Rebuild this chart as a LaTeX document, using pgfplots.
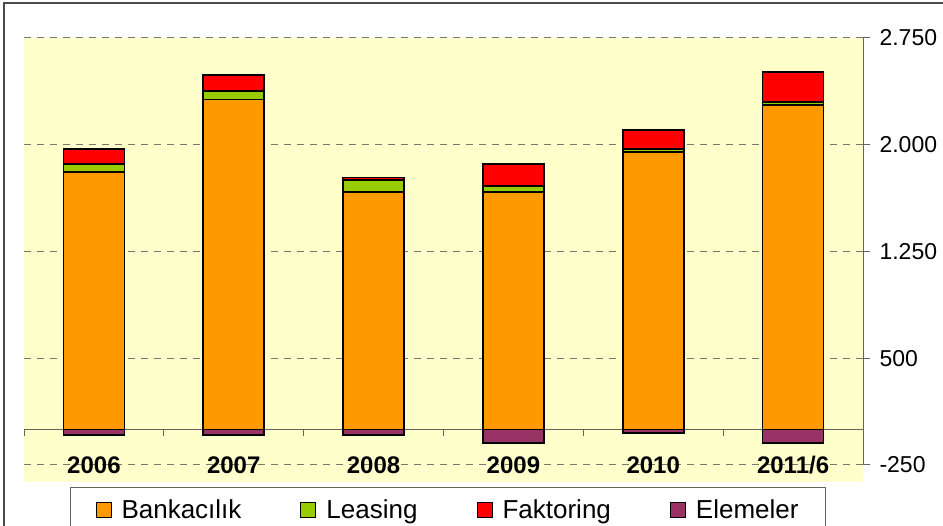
\documentclass[border=0pt]{standalone}
\usepackage{pgfplots}
\pgfplotsset{compat=1.18}
\usepackage{fontspec}
\setmainfont{Liberation Sans}
\definecolor{cBank}{RGB}{255,153,0}
\definecolor{cLeas}{RGB}{153,204,0}
\definecolor{cFakt}{RGB}{255,0,0}
\definecolor{cElem}{RGB}{153,51,102}
\definecolor{bgY}{RGB}{255,255,204}
\definecolor{axg}{RGB}{100,100,90}
\definecolor{grd}{RGB}{120,120,110}
\begin{document}
\begin{tikzpicture}
\path[use as bounding box] (0pt,0pt) rectangle (943pt,526pt);
\clip (0pt,0pt) rectangle (943pt,526pt);
\fill[bgY] (24pt,44pt) rectangle (863pt,488pt);
\draw[line width=1.5pt, black!70] (4pt,-20pt) rectangle (990pt,523pt);
\begin{axis}[
  at={(24pt,61pt)}, anchor=south west,
  scale only axis, width=839pt, height=427pt,
  xmin=-0.5, xmax=5.5, ymin=-250, ymax=2750,
  ybar stacked, bar width=61pt,
  axis x line*=middle, axis y line*=right,
  x axis line style={draw=axg, line width=1pt},
  y axis line style={draw=axg, line width=1pt},
  hide obscured x ticks=false,
  xtick={-0.5,0.5,1.5,2.5,3.5,4.5,5.5}, xticklabels={},
  ytick={-250,500,1250,2000,2750},
  yticklabels={-250,500,{1.250},{2.000},{2.750}},
  yticklabel style={font=\fontsize{23}{27}\selectfont, anchor=west, xshift=6pt},
  tick align=outside, major tick length=7pt,
  tick style={draw=axg, line width=1pt},
  ymajorgrids, major grid style={draw=grd, line width=1pt, dash pattern=on 7pt off 6pt},
  every axis plot/.append style={draw=black, line width=1.6pt},
]
\addplot[fill=cBank] coordinates {(0,1810) (1,2318) (2,1667) (3,1669) (4,1947) (5,2281)};
\addplot[fill=cLeas] coordinates {(0,54) (1,61) (2,85) (3,41) (4,21) (5,19)};
\addplot[fill=cFakt] coordinates {(0,106) (1,111) (2,19) (3,155) (4,136) (5,213)};
\end{axis}
\begin{axis}[
  at={(24pt,61pt)}, anchor=south west,
  scale only axis, width=839pt, height=427pt,
  xmin=-0.5, xmax=5.5, ymin=-250, ymax=2750,
  ybar, bar width=61pt, bar shift=0pt,
  axis line style={draw=none}, ytick=\empty,
  xtick={0,1,2,3,4,5},
  xticklabels={2006,2007,2008,2009,2010,2011/6},
  xticklabel style={font=\bfseries\fontsize{24}{28}\selectfont, anchor=center},
  major tick length=0pt, tick style={draw=none},
  legend columns=4,
  legend image code/.code={\draw[#1, draw=black, line width=1pt] (0pt,-7.5pt) rectangle (15pt,7.5pt);},
  legend style={at={(0.5054,-0.0515)}, anchor=north, draw=axg, line width=1pt,
    font=\fontsize{26}{30}\selectfont, inner xsep=25pt, inner ysep=10pt,
    /tikz/every odd column/.append style={column sep=8pt},
    /tikz/every even column/.append style={column sep=57pt}},
]
\addlegendimage{fill=cBank}
\addlegendentry{Bankacılık}
\addlegendimage{fill=cLeas}
\addlegendentry{Leasing}
\addlegendimage{fill=cFakt}
\addlegendentry{Faktoring}
\addplot[fill=cElem, draw=black, line width=1.6pt] coordinates {(0,-41) (1,-41) (2,-41) (3,-97) (4,-27) (5,-97)};
\addlegendentry{Elemeler}
\end{axis}
\end{tikzpicture}
\end{document}
